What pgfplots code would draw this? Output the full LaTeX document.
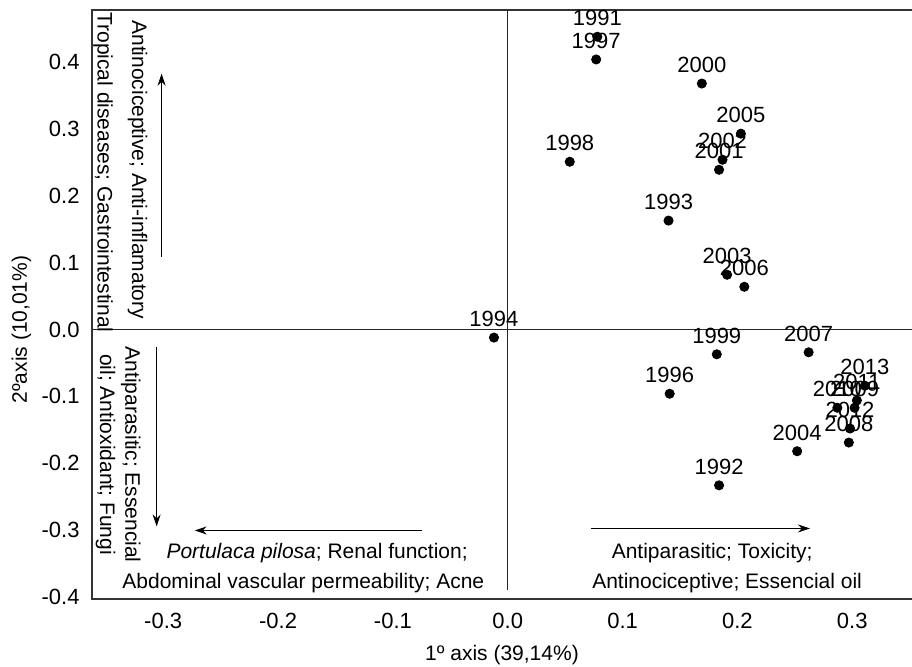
\documentclass[border=0pt]{standalone}
\usepackage{fontspec}
\setmainfont{Liberation Sans}
\usepackage{pgfplots}
\pgfplotsset{compat=1.18}
\usetikzlibrary{arrows.meta}

\pgfplotstableread{
x      y       yr
0.078  0.438   1991
0.077  0.404   1997
0.169  0.368   2000
0.203  0.293   2005
0.187  0.254   2002
0.184  0.239   2001
0.054  0.251   1998
0.140  0.163   1993
0.191  0.082   2003
0.206  0.064   2006
-0.012 -0.012  1994
0.182  -0.037  1999
0.262  -0.034  2007
0.141  -0.096  1996
0.311  -0.084  2013
0.304  -0.106  2011
0.287  -0.117  2010
0.302  -0.117  2009
0.298  -0.148  2012
0.297  -0.169  2008
0.252  -0.182  2004
0.184  -0.233  1992
}\years

\newcommand\lblfont{\fontsize{11}{13}\selectfont}
\newcommand\notefont{\fontsize{10.5}{12.5}\selectfont}

\begin{document}
\begin{tikzpicture}
\begin{axis}[
    name=ax,
    scale only axis,
    width=410pt, height=294.5pt,
    xmin=-0.362, xmax=0.352,
    ymin=-0.403, ymax=0.478,
    clip=false,
    axis line style={draw=none},
    tick style={draw=none},
    major tick length=0pt,
    tick label style={font=\lblfont},
    xtick={-0.3,-0.2,-0.1,0,0.1,0.2,0.3},
    xticklabels={-0.3,-0.2,-0.1,0.0,0.1,0.2,0.3},
    ytick={-0.4,-0.3,-0.2,-0.1,0,0.1,0.2,0.3,0.4},
    yticklabels={-0.4,-0.3,-0.2,-0.1,0.0,0.1,0.2,0.3,0.4},
    xticklabel style={yshift=-3.5pt},
    yticklabel style={xshift=-2.7pt},
    nodes near coords align={anchor=base},
]
% box: left, top, bottom (right side is cut off)
\draw[black!80, line width=0.7pt] (rel axis cs:1,1) -- (rel axis cs:0,1) -- (rel axis cs:0,0) -- (rel axis cs:1,0);
% zero lines
\draw[black!85, line width=0.5pt] (axis cs:-0.362,0) -- (axis cs:0.352,0);
\draw[black!85, line width=0.5pt] (axis cs:0,0.478) -- (axis cs:0,-0.389);

\addplot[only marks, mark=*, mark size=2.3pt, black,
    nodes near coords, point meta=explicit symbolic,
    every node near coord/.append style={anchor=base, yshift=5.5pt, black, inner sep=0pt, font=\lblfont}]
    table[x=x, y=y, meta=yr] {\years};

% arrows
\draw[-{Stealth[length=6pt,width=4pt]}, line width=0.5pt] (axis cs:-0.3014,0.1091) -- (axis cs:-0.3014,0.3827);
\draw[-{Stealth[length=6pt,width=4pt]}, line width=0.5pt] (axis cs:-0.3057,-0.0254) -- (axis cs:-0.3057,-0.2945);
\draw[-{Stealth[length=6pt,width=4pt]}, line width=0.5pt] (axis cs:-0.0749,-0.3005) -- (axis cs:-0.2726,-0.3005);
\draw[-{Stealth[length=6pt,width=4pt]}, line width=0.5pt] (axis cs:0.0723,-0.2975) -- (axis cs:0.2631,-0.2975);

% quadrant notes
\begin{scope}[every node/.style={font=\notefont, inner sep=0pt}]
\node[rotate=-90, anchor=base west] at (axis cs:-0.327,0.463) {Antinociceptive; Anti-inflamatory};
\node[rotate=-90, anchor=base west] at (axis cs:-0.357,0.475) {Tropical diseases; Gastrointestinal};
\node[rotate=-90, anchor=base west] at (axis cs:-0.333,-0.025) {Antiparasitic; Essencial};
\node[rotate=-90, anchor=base west] at (axis cs:-0.355,-0.036) {oil; Antioxidant; Fungi};
\node[anchor=base] at (axis cs:-0.166,-0.342) {\textit{Portulaca pilosa}; Renal function;};
\node[anchor=base] at (axis cs:-0.178,-0.387) {Abdominal vascular permeability; Acne};
\node[anchor=base] at (axis cs:0.178,-0.342) {Antiparasitic; Toxicity;};
\node[anchor=base] at (axis cs:0.191,-0.387) {Antinociceptive; Essencial oil};
% axis title
\node[rotate=90, anchor=base] at ([xshift=-32.5pt]axis cs:-0.362,0.0) {2ºaxis (10,01\%)};
\end{scope}
\end{axis}
\node[anchor=base, inner sep=0pt, font=\notefont] at ([yshift=-31pt]ax.south) {1º axis (39,14\%)};
\pgfresetboundingbox
\useasboundingbox ([shift={(-46pt,-34pt)}]ax.south west) rectangle ([shift={(0pt,5pt)}]ax.north east);
\end{tikzpicture}
\end{document}
